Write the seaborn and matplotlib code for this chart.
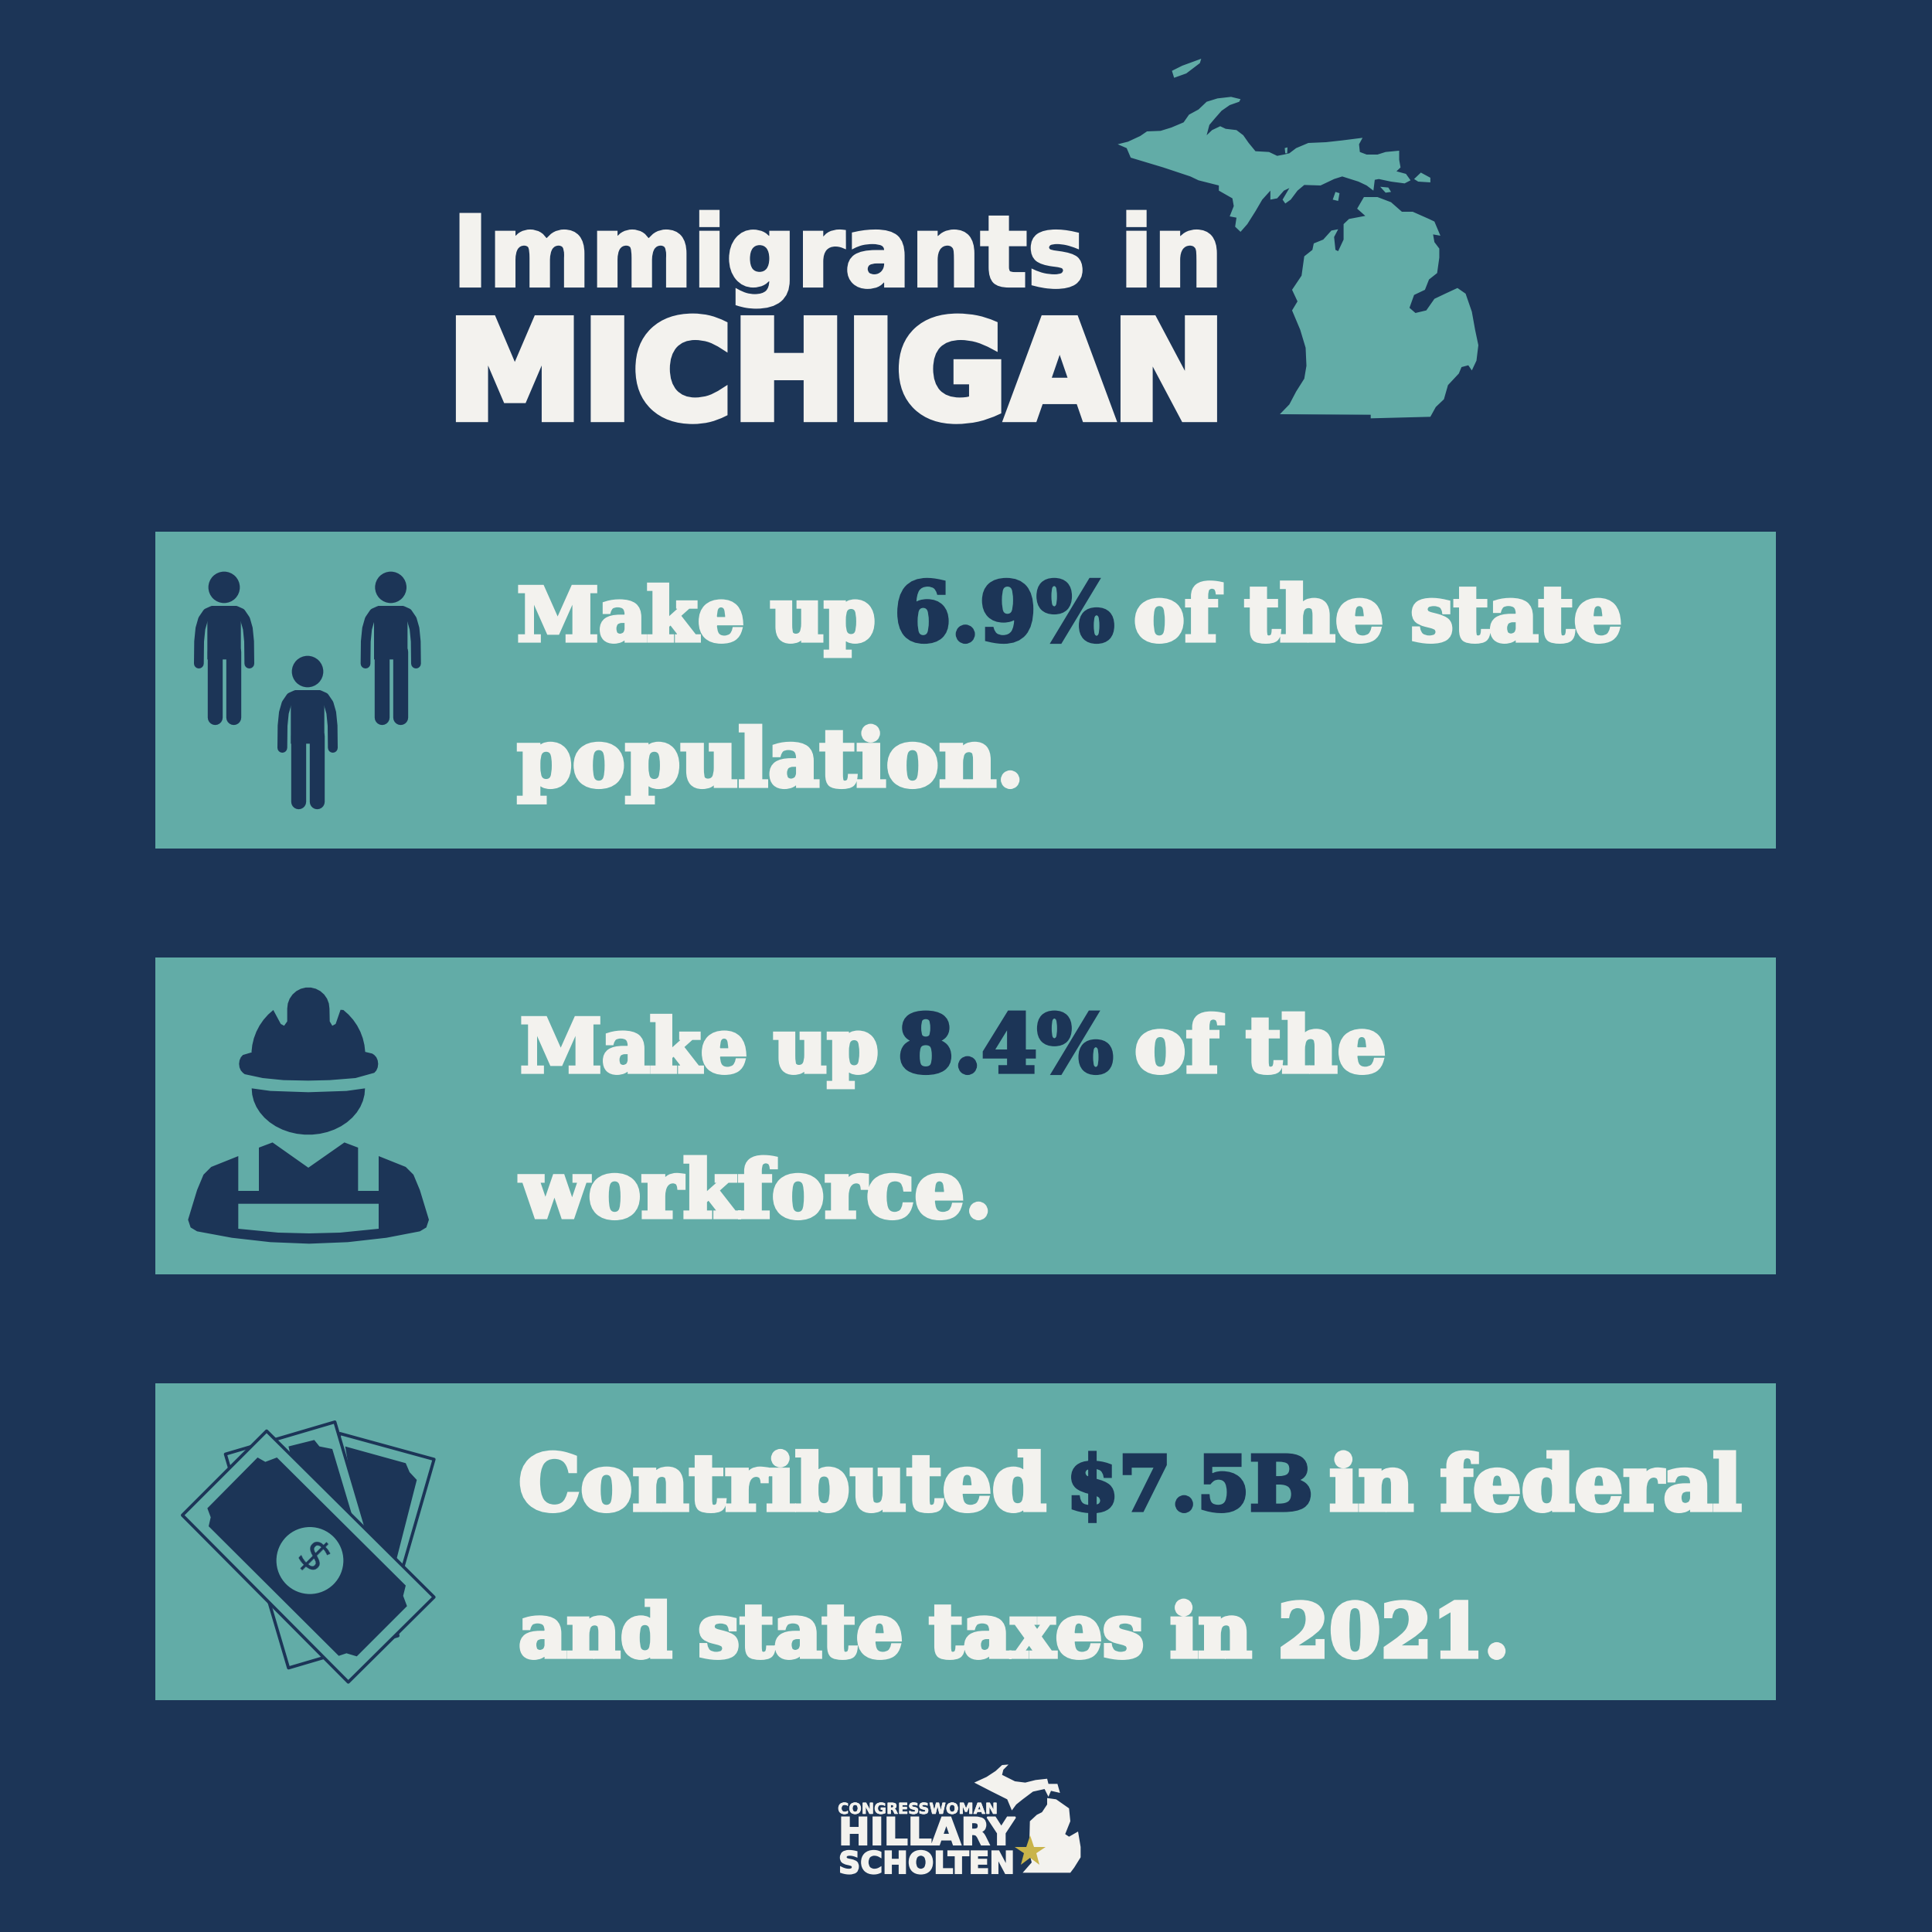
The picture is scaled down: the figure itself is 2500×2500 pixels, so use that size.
import matplotlib
matplotlib.use("Agg")
import matplotlib.pyplot as plt
import matplotlib.patheffects as pe
from matplotlib.patches import Circle, Polygon
import numpy as np
import pandas as pd
import seaborn as sns

NAVY = "#1c3557"
TEAL = "#62aca7"
CREAM = "#f3f2ee"
GOLD = "#c9b44a"

TITLE_TOP = "Immigrants in"
TITLE_BOTTOM = "MICHIGAN"
ROWS = ["population", "workforce", "taxes"]
ROW_SPAN = [1, 1, 1]

ROW_1 = ["Make up", "6.9%", "of the state"]
ROW_1B = "population."
ROW_2 = ["Make up", "8.4%", "of the"]
ROW_2B = "workforce."
ROW_3 = ["Contributed", "$7.5B", "in federal"]
ROW_3B = "and state taxes in 2021."

LOGO_TOP = "CONGRESSWOMAN"
LOGO_MID = "HILLARY"
LOGO_BOTTOM = "SCHOLTEN"

UPPER = [(132,410),(170,400),(215,378),(240,360),(290,358),(330,345),(375,325),(395,295),(430,275),(460,245),(500,232),(550,226),(585,235),(580,245),(545,258),(515,280),(490,310),(470,335),(460,375),(480,355),(510,340),(530,350),(570,355),(595,375),(615,405),(640,437),(690,440),(720,455),(745,450),(765,445),(790,425),(835,405),(900,402),(960,395),(1035,385),(1022,410),(1025,440),(1050,450),(1090,450),(1120,440),(1170,435),(1170,470),(1175,500),(1160,515),(1195,525),(1212,550),(1190,562),(1140,555),(1095,545),(1080,548),(1075,590),(1050,570),(1020,555),(960,535),(930,545),(880,570),(820,568),(795,590),(770,625),(750,640),(740,625),(765,580),(745,590),(720,620),(695,625),(695,590),(665,625),(640,670),(610,720),(585,750),(565,730),(570,695),(545,690),(560,650),(555,620),(505,590),(505,570),(430,550),(400,535),(300,500),(180,462),(165,425)]
LOWER = [(730,1458),(765,1420),(790,1370),(820,1320),(828,1270),(825,1200),(805,1130),(775,1055),(795,1020),(775,975),(810,920),(820,845),(850,820),(855,795),(890,780),(920,745),(945,740),(930,770),(935,820),(945,825),(965,780),(965,720),(985,700),(1045,688),(1015,660),(1040,615),(1090,615),(1140,635),(1180,672),(1220,672),(1280,700),(1300,710),(1322,765),(1295,760),(1300,790),(1318,815),(1318,850),(1310,910),(1280,935),(1265,975),(1225,995),(1208,1045),(1230,1065),(1270,1055),(1300,1010),(1340,990),(1385,968),(1415,990),(1438,1060),(1450,1130),(1462,1190),(1455,1250),(1438,1288),(1425,1268),(1400,1275),(1390,1300),(1350,1345),(1335,1400),(1305,1430),(1285,1468),(1065,1474),(1065,1460)]
ISLANDS = [
    [(332,125),(370,105),(440,78),(435,95),(385,135),(340,152)],
    [(1225,545),(1250,520),(1285,540),(1285,558),(1240,555)],
    [(1100,575),(1130,578),(1140,595),(1120,598)],
    [(925,625),(935,595),(950,600),(945,630)],
    [(748,425),(758,422),(757,445),(750,445)],
]
VEST = [(405,705),(458,685),(597,783),(737,685),(790,705),(790,873),(870,873),(870,738),(975,780),(1005,810),(1030,870),(1065,985),(1055,1015),(1030,1030),(900,1055),(750,1072),(600,1078),(450,1072),(300,1055),(165,1030),(140,1015),(130,985),(165,870),(190,810),(220,780),(325,738),(325,873),(405,873)]
VEST_GAP = [(325,923),(870,923),(870,1020),(720,1035),(600,1038),(480,1035),(325,1020)]
LOGO_UPPER = [(632,140),(680,118),(715,95),(740,72),(765,70),(745,90),(740,110),(790,135),(830,140),(870,130),(915,125),(920,145),(955,145),(965,180),(930,172),(920,195),(905,165),(860,175),(820,205),(795,225),(778,248),(760,205),(700,175)]
LOGO_LOWER = [(820,490),(855,450),(845,410),(848,290),(875,265),(895,255),(915,225),(915,200),(950,205),(1000,240),(1005,290),(985,340),(1000,350),(1035,330),(1045,390),(1045,430),(1020,470),(1005,490)]

sns.set_theme(style="white")
plt.rcParams["font.family"] = ["DejaVu Sans"]

fig = plt.figure(figsize=(10, 10), dpi=250, facecolor=NAVY)

# the three teal panels are equal bars on their own axes
ax_rows = fig.add_axes([201 / 2500, 1 - 2270.5 / 2500, 2097 / 2500, 1653 / 2500])
rows = pd.DataFrame({"row": ROWS, "span": ROW_SPAN})
sns.barplot(data=rows, y="row", x="span", color=TEAL, saturation=1, width=0.744, linewidth=0, ax=ax_rows)
ax_rows.set_xlim(0, 1)
ax_rows.set_ylim(2.5, -0.5)
ax_rows.axis("off")

ax = fig.add_axes([0, 0, 1, 1])
ax.set_xlim(0, 2500)
ax.set_ylim(2500, 0)
ax.axis("off")
ax.patch.set_alpha(0)


def crop(points, x0, y0, sx=3.0, sy=3.0):
    return [(x0 + x / sx, y0 + y / sy) for x, y in points]


def arc(cx, cy, rx, ry, a0, a1, n=14):
    t = np.radians(np.linspace(a0, a1, n))
    return list(zip(cx + rx * np.cos(t), cy + ry * np.sin(t)))


def shape(points, color, **kw):
    ax.add_patch(Polygon(points, closed=True, facecolor=color, edgecolor=kw.pop("edge", "none"), **kw))


def put(x, base, text, color=CREAM, size=28, fat=1.5, family="DejaVu Serif", weight="bold", ha="left"):
    t = ax.text(x, base, text, color=color, fontsize=size, family=family, weight=weight, va="baseline", ha=ha)
    if fat:
        t.set_path_effects([pe.withStroke(linewidth=fat, foreground=color, joinstyle="miter")])
    return t


def person(cx, cy):
    # crop pixels relative to the head centre, crop starts at (220, 710)
    px = lambda x, y: (220 + (cx + x) / 3, 710 + (cy + y) / 3)
    ax.add_patch(Circle(px(0, 0), 61 / 3, color=NAVY, lw=0))
    shape([px(-48, 72), px(48, 72), px(65, 95), px(65, 280), px(-65, 280), px(-65, 95)], NAVY)
    for side in (-1, 1):
        arm = [px(side * 45, 91), px(side * 65, 100), px(side * 82, 125), px(side * 92, 160), px(side * 97, 210), px(side * 98, 296)]
        ax.plot(*zip(*arm), color=NAVY, lw=38 / 3 * 72 / 250, solid_capstyle="round", solid_joinstyle="round")
        leg = [px(side * 36, 250), px(side * 36, 504)]
        ax.plot(*zip(*leg), color=NAVY, lw=58 / 3 * 72 / 250, solid_capstyle="round")


# header
put(585, 370, TITLE_TOP, size=36.5, fat=1.2, family="DejaVu Sans")
put(579, 541, TITLE_BOTTOM, size=50.5, fat=3, family="DejaVu Sans")

shape(crop(UPPER, 1400, 50, sx=2.85), TEAL)
shape(crop(LOWER, 1400, 50, sx=2.85), TEAL)
for island in ISLANDS:
    shape(crop(island, 1400, 50, sx=2.85), TEAL)

# panel text
put(669, 829, ROW_1[0], size=27.5)
put(1157, 829, ROW_1[1], color=NAVY, size=30.5)
put(1467, 829, ROW_1[2], size=28.5)
put(669, 1017, ROW_1B, size=29.5)
put(673, 1387, ROW_2[0], size=27.5)
put(1162, 1387, ROW_2[1], color=NAVY, size=29.8)
put(1468, 1387, ROW_2[2], size=28.7)
put(673, 1575, ROW_2B, size=29.5)
put(671, 1954, ROW_3[0], size=29)
put(1380, 1954, ROW_3[1], color=NAVY, size=28)
put(1720, 1954, ROW_3[2], size=28.4)
put(671, 2144, ROW_3B, size=27.6)

# people icon
person(210, 150)
person(857, 150)
person(534, 477)

# worker icon
helmet = (
    arc(597, 165, 82, 82, 180, 360) + [(680, 215), (690, 232), (703, 225), (722, 170)]
    + arc(597, 345, 221, 221, -52, -3, 8) + [(845, 340)] + arc(838, 380, 30, 40, -60, 60, 7)
    + [(780, 435), (680, 443), (597, 445), (500, 443), (420, 435), (350, 420)]
    + arc(358, 380, 30, 40, 120, 240, 7) + [(378, 335)]
    + arc(597, 345, 221, 221, 183, 232, 8) + [(490, 225), (503, 232), (515, 215)]
)
face = [(450, 485), (597, 490), (745, 485)] + arc(597, 475, 220, 180, 0, 180, 24)
shape(crop(helmet, 200, 1250), NAVY)
shape(crop(face, 200, 1250), NAVY)
shape(crop(VEST, 200, 1250), NAVY)
shape(crop(VEST_GAP, 200, 1250), TEAL)

# money icon
line = 12 / 3 * 72 / 250
bill_b = [(720,105),(1085,205),(870,950),(505,850)]
shape(crop(bill_b, 200, 1820), TEAL, edge=NAVY, lw=line, joinstyle="round")
shape(crop([(740,155),(975,220),(990,255),(1018,285),(940,590),(800,500)], 200, 1820), NAVY)
bill_a = [(275,185),(700,60),(945,890),(520,1015)]
shape(crop(bill_a, 200, 1820), TEAL, edge=NAVY, lw=line, joinstyle="round")
shape(crop([(520,155),(620,130),(640,155),(690,165),(790,500),(600,500)], 200, 1820), NAVY)
bill_front = [(435,95),(1085,740),(752,1070),(108,422)]
shape(crop(bill_front, 200, 1820), TEAL, edge=NAVY, lw=line, joinstyle="round")
shape(crop([(400,198),(430,215),(475,198),(975,695),(965,735),(980,775),(785,970),(745,958),(715,968),(210,465),(218,430),(205,395)], 200, 1820), NAVY)
ax.add_patch(Circle((200 + 603 / 3, 1820 + 598 / 3), 130 / 3, color=TEAL, lw=0))
ax.text(200 + 603 / 3, 1820 + 598 / 3, "$", color=NAVY, fontsize=17, family="Noto Sans", rotation=-45,
        ha="center", va="center", rotation_mode="anchor")

# logo
shape(crop(LOGO_UPPER, 1050, 2260), CREAM)
shape(crop(LOGO_LOWER, 1050, 2260), CREAM)
ax.plot([1333], [2396], marker="*", ms=12, color=GOLD, mew=0)
put(1084, 2347, LOGO_TOP, size=5.6, fat=0.2, family="DejaVu Sans")
put(1085, 2387, LOGO_MID, size=14, fat=0.6, family="DejaVu Sans")
put(1085, 2424, LOGO_BOTTOM, size=11.3, fat=0.6, family="DejaVu Sans")

fig.savefig("out.png", dpi=250, facecolor=NAVY)
